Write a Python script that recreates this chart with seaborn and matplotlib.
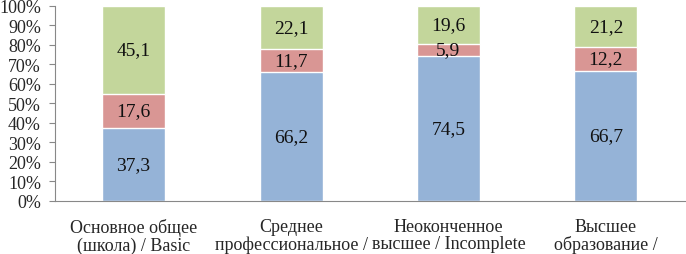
import numpy as np
import pandas as pd
import matplotlib
matplotlib.use("Agg")
import matplotlib.pyplot as plt
import seaborn as sns

# data
categories = ["Основное общее\n(школа) / Basic",
              "Среднее\nпрофессиональное /",
              "Неоконченное\nвысшее / Incomplete",
              "Высшее\nобразование /"]
blue_vals = [37.3, 66.2, 74.5, 66.7]
red_vals = [17.6, 11.7, 5.9, 12.2]
green_vals = [45.1, 22.1, 19.6, 21.2]

colors = {"blue": "#95B3D7", "red": "#D99694", "green": "#C3D69B"}

sns.set_style("white")
plt.rcParams["font.family"] = ["Liberation Serif", "DejaVu Serif"]

df = pd.DataFrame({"cat": categories, "blue": blue_vals,
                   "red": red_vals, "green": green_vals})
df["lvl1"] = df["blue"]
df["lvl2"] = df["blue"] + df["red"]
df["lvl3"] = (df["lvl2"] + df["green"]).clip(upper=100)

fig = plt.figure(figsize=(6.86, 2.55), dpi=100)
ax = fig.add_axes([0.080, 0.208, 0.918, 0.765])

# stacked look: draw cumulative bars from the top down
sns.barplot(data=df, x="cat", y="lvl3", color=colors["green"], width=0.4,
            saturation=1, ax=ax)
sns.barplot(data=df, x="cat", y="lvl2", color=colors["red"], width=0.4,
            saturation=1, ax=ax)
sns.barplot(data=df, x="cat", y="lvl1", color=colors["blue"], width=0.4,
            saturation=1, ax=ax)

# value labels in middle of each segment
for i, row in df.iterrows():
    segs = [(row["blue"], row["blue"] / 2),
            (row["red"], row["blue"] + row["red"] / 2),
            (row["green"], row["lvl2"] + (row["lvl3"] - row["lvl2"]) / 2)]
    for v, y in segs:
        ax.text(i, y, f"{v:.1f}".replace(".", ","), ha="center", va="center",
                fontsize=14, color="#111111")

ax.set_ylim(0, 100)
ax.set_xlim(-0.5, 3.5)
ax.set_yticks(np.arange(0, 101, 10))
ax.set_yticklabels([f"{t}%" for t in range(0, 101, 10)], fontsize=13)
ax.set_xlabel("")
ax.set_ylabel("")
ax.set_xticks(range(4))
ax.set_xticklabels(categories, fontsize=13, linespacing=1.05)
ax.set_xticks(np.arange(-0.5, 4, 1), minor=True)
ax.tick_params(axis="x", which="major", length=0, pad=12)
ax.tick_params(axis="x", which="minor", length=4, color="#888888", direction="out")
ax.tick_params(axis="y", length=4, color="#888888", direction="out", pad=6, left=True)

sns.despine(ax=ax)
for s in ["left", "bottom"]:
    ax.spines[s].set_color("#888888")
    ax.spines[s].set_linewidth(0.8)

fig.savefig("out.png", dpi=100)
